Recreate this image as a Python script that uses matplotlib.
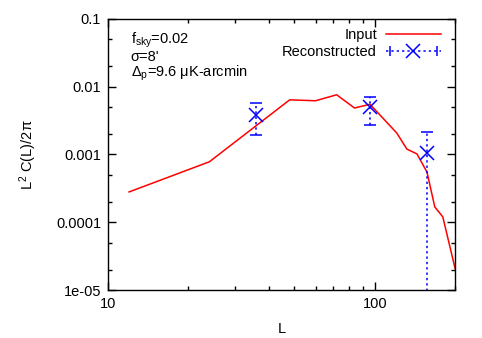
import numpy as np
import matplotlib
matplotlib.use("Agg")
import matplotlib.pyplot as plt
from matplotlib.lines import Line2D
from matplotlib.legend_handler import HandlerLine2D
from matplotlib.ticker import FixedLocator, NullFormatter

plt.rcParams["font.family"] = ["Liberation Sans", "DejaVu Sans"]
plt.rcParams["mathtext.fontset"] = "custom"
plt.rcParams["mathtext.rm"] = "Liberation Sans"
plt.rcParams["mathtext.it"] = "Liberation Sans"

# Input spectrum (red line)
L_input = [12, 24, 48, 60, 72, 84, 96, 121, 132, 144, 157, 168, 180, 200]
C_input = [2.8e-4, 7.8e-4, 6.4e-3, 6.2e-3, 7.6e-3, 4.85e-3, 5.5e-3,
           2.07e-3, 1.2e-3, 1.02e-3, 5.5e-4, 1.68e-4, 1.2e-4, 2.1e-5]

# Reconstructed band powers with error bars
L_rec = [36, 96, 157]
C_rec = [3.8e-3, 5.0e-3, 1.05e-3]
C_rec_hi = [5.75e-3, 7.1e-3, 2.15e-3]
C_rec_lo = [1.94e-3, 2.72e-3, 1e-9]   # last one runs off the bottom

fig = plt.figure(figsize=(4.82, 3.38), dpi=100)
ax = fig.add_axes([0.224, 0.142, 0.72, 0.802])

ax.plot(L_input, C_input, color="red", lw=1.1, label="Input")

yerr = [np.array(C_rec) - np.array(C_rec_lo), np.array(C_rec_hi) - np.array(C_rec)]
eb = ax.errorbar(L_rec, C_rec, yerr=yerr, fmt="x", color="blue", ms=10, mew=1.1,
                 ecolor="blue", elinewidth=1.1, capsize=4, capthick=1.1)
eb[2][0].set_linestyle((0, (1.5, 2)))

ax.set_xscale("log")
ax.set_yscale("log")
ax.set_xlim(10, 200)
ax.set_ylim(1e-5, 0.1)

ax.set_xticks([10, 100])
ax.set_xticklabels(["10", "100"])
ax.xaxis.set_minor_locator(FixedLocator([20, 30, 40, 50, 60, 70, 80, 90, 200]))
ax.xaxis.set_minor_formatter(NullFormatter())
ax.set_yticks([1e-5, 1e-4, 1e-3, 1e-2, 1e-1])
ax.set_yticklabels(["1e-05", "0.0001", "0.001", "0.01", "0.1"])
minors = [m * 10.0 ** e for e in range(-5, -1) for m in (2, 5)]
ax.yaxis.set_minor_locator(FixedLocator(minors))
ax.yaxis.set_minor_formatter(NullFormatter())
ax.tick_params(which="both", direction="in", top=True, right=True, labelsize=10.5,
               width=1, colors="black")
ax.tick_params(which="major", length=6, pad=5)
ax.tick_params(which="minor", length=3)
for s in ax.spines.values():
    s.set_linewidth(1)

ax.set_xlabel("L", fontsize=10.5, labelpad=8)
ax.set_ylabel(r"L$^2$ C(L)/2$\pi$", fontsize=10.5, labelpad=12)

ax.text(0.065, 0.910, r"f$_{\rm sky}$=0.02", transform=ax.transAxes, fontsize=10.5, va="baseline")
ax.text(0.065, 0.843, "σ=8'", transform=ax.transAxes, fontsize=10.5, va="baseline")
ax.text(0.065, 0.787, r"$\Delta_{\rm p}$=9.6 μK-arcmin", transform=ax.transAxes,
        fontsize=10.5, va="baseline")

# legend: gnuplot style, text on the left of the sample
h_in = Line2D([], [], color="red", lw=1.1)
h_line = Line2D([], [], color="blue", lw=1.1, ls=(0, (1.5, 2)), marker="x", ms=10, mew=1.1)
h_caps = Line2D([], [], color="blue", ls="none", marker="|", ms=7, mew=1.1)
leg = ax.legend([h_in, (h_line, h_caps)], ["Input", "Reconstructed"],
                loc="upper right", bbox_to_anchor=(0.985, 1.0), frameon=False,
                markerfirst=False, fontsize=10.5, handlelength=3.8, handletextpad=0.6,
                labelspacing=0.25, borderaxespad=0.2,
                handler_map={h_caps: HandlerLine2D(numpoints=2)})

fig.savefig("out.png", dpi=100)
